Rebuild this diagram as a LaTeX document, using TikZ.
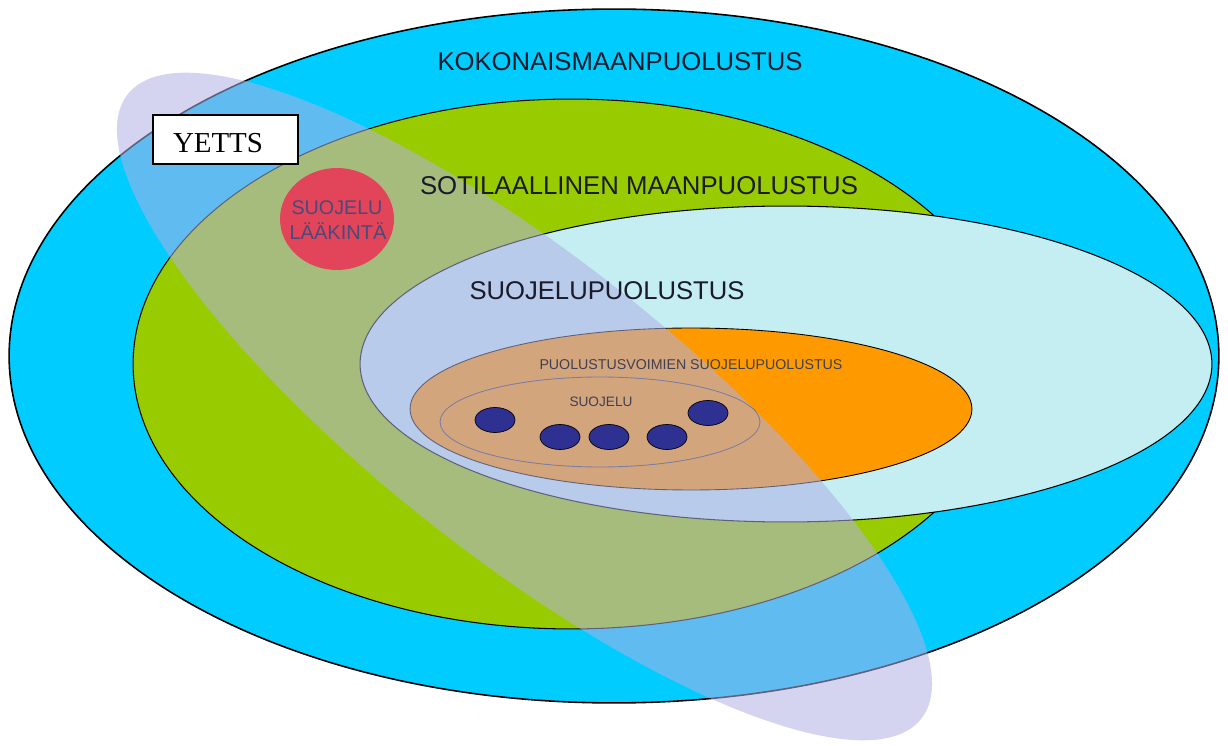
\documentclass[tikz,border=0pt]{standalone}
\usepackage{graphicx}
\usepackage{fontspec}
\setmainfont{Liberation Sans}
\newfontfamily\serifface{Liberation Serif}
\usetikzlibrary{shapes.geometric}

\definecolor{skyblue}{HTML}{00CCFF}
\definecolor{leafgreen}{HTML}{99CC00}
\definecolor{palecyan}{HTML}{C4EEF2}
\definecolor{warmorange}{HTML}{FF9900}
\definecolor{medred}{HTML}{E2445A}
\definecolor{lavender}{HTML}{B0B0E4}
\definecolor{navydot}{HTML}{2E3192}
\definecolor{inktext}{HTML}{1A1A2A}
\definecolor{greytext}{HTML}{404050}
\definecolor{redtext}{HTML}{4A4A7A}

% fit a label to a given width (in cm), keeping its proportions
\newcommand\fitw[2]{\resizebox{#1}{!}{#2}}

\tikzset{
  lbl/.style={inner sep=0pt, outer sep=0pt, anchor=base, text=inktext},
  zone/.style={draw=black, line width=0.6pt},
  dotnode/.style={ellipse, draw=black, line width=0.4pt, fill=navydot,
    minimum width=0.80cm, minimum height=0.50cm, inner sep=0pt}
}

\begin{document}
\begin{tikzpicture}[x=0.02cm, y=-0.02cm]
\useasboundingbox (0,0) rectangle (1228,746);

% nested defence areas
\filldraw[zone, fill=skyblue, line width=0.9pt] (614,356) circle[x radius=12.10cm, y radius=6.94cm];
\filldraw[zone, fill=leafgreen] (571,364) circle[x radius=8.76cm, y radius=5.30cm];
\filldraw[zone, fill=palecyan] (786,364) circle[x radius=8.52cm, y radius=3.16cm];
\filldraw[zone, fill=warmorange, line width=0.5pt] (691,409) circle[x radius=5.62cm, y radius=1.62cm];
\draw[draw=greytext, line width=0.5pt] (600,422) circle[x radius=3.20cm, y radius=0.90cm];

% YETTS band across the areas
\fill[lavender, fill opacity=0.55, rotate around={-38.2:(524.5,406.5)}]
  (524.5,406.5) circle[x radius=10.10cm, y radius=3.00cm];

% medical protection
\fill[medred] (337,219) circle[x radius=1.14cm, y radius=1.02cm];
\node[lbl, text=redtext] (medA) at (337,215) {\fitw{1.82cm}{SUOJELU}};
\node[lbl, text=redtext] (medB) at (338,240) {\fitw{1.94cm}{LÄÄKINTÄ}};

% protection units
\node[dotnode] (d1) at (495,420) {};
\node[dotnode] (d2) at (560,437) {};
\node[dotnode] (d3) at (609,437) {};
\node[dotnode] (d4) at (667,437) {};
\node[dotnode] (d5) at (708,413) {};

% area labels
\node[lbl] (koko) at (620,71) {\fitw{7.30cm}{KOKONAISMAANPUOLUSTUS}};
\node[lbl] (soti) at (639,195) {\fitw{8.76cm}{SOTILAALLINEN MAANPUOLUSTUS}};
\node[lbl] (suoj) at (607,300) {\fitw{5.50cm}{SUOJELUPUOLUSTUS}};
\node[lbl, text=greytext] (pvsp) at (691,370) {\fitw{6.06cm}{PUOLUSTUSVOIMIEN SUOJELUPUOLUSTUS}};
\node[lbl, text=greytext] (suojelu) at (601,407) {\fitw{1.26cm}{SUOJELU}};

% YETTS box
\node[draw=black, line width=1.2pt, fill=white, minimum width=2.90cm, minimum height=0.98cm,
  inner sep=0pt, anchor=north west] (yetts) at (152,114) {};
\node[lbl, text=black] (yettsText) at (218,153) {\serifface\fitw{1.80cm}{YETTS}};
\end{tikzpicture}
\end{document}
